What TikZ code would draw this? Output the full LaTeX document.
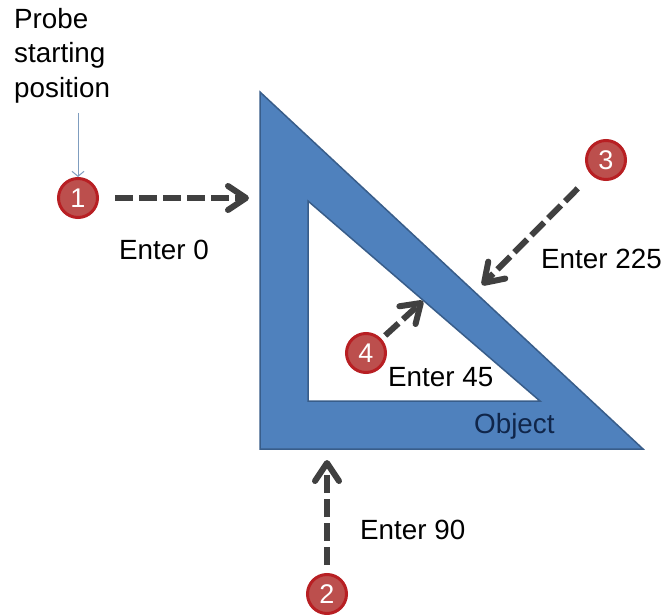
\documentclass[tikz,border=0pt]{standalone}
\usepackage{fontspec}
\setmainfont{Liberation Sans}
\usetikzlibrary{arrows.meta}
\definecolor{objfill}{HTML}{4F81BD}
\definecolor{objline}{HTML}{385D8A}
\definecolor{objtext}{HTML}{10264A}
\definecolor{badgefill}{HTML}{BC4F4D}
\definecolor{badgeline}{HTML}{B81F23}
\definecolor{arrowgray}{HTML}{404040}
\definecolor{thinblue}{HTML}{7F9DBF}
\tikzset{
  x=1pt,y=-1pt,
  badge/.style={circle,draw=badgeline,fill=badgefill,line width=3pt,minimum size=39pt,inner sep=0pt,text=white,font=\fontsize{27}{27}\selectfont},
  probearrow/.style={draw=arrowgray,line width=6pt,dash pattern=on 18pt off 6pt,
    -{Straight Barb[length=18pt,width=24pt,line width=6pt,round]}},
  lbl/.style={anchor=base west,inner sep=0pt,font=\fontsize{27.8}{27.8}\selectfont},
}
\begin{document}
\begin{tikzpicture}
\useasboundingbox (0,0) rectangle (665,615);
\fill[white] (0,0) rectangle (665,615);
% object
\path[fill=objfill,draw=objline,line width=1.5pt,even odd rule,line join=miter]
  (260,92) -- (643,449) -- (260,449) -- cycle
  (308,201) -- (540,401) -- (308,401) -- cycle;
% badges
\node[badge] (c1) at (78,198) {1};
\node[badge] (c2) at (327,594) {2};
\node[badge] (c3) at (606,160) {3};
\node[badge] (c4) at (366,353) {4};
% free ends
\coordinate (t1) at (249,198);
\coordinate (t2) at (327,460);
\coordinate (t3) at (482,285);
\coordinate (t4) at (423,301);
\coordinate (p0) at (78,113);
% connectors
\draw[probearrow,shorten <=16pt] (c1) -- (t1);
\draw[probearrow,shorten <=8pt] (c2) -- (t2);
\draw[probearrow,shorten <=19pt] (c3) -- (t3);
\draw[probearrow,shorten <=5pt] (c4) -- (t4);
\draw[thinblue,line width=1pt,-{Straight Barb[length=5pt,width=12pt]}] (p0) -- (c1);
% labels
\node[lbl] (l1) at (14,29) {Probe};
\node[lbl] (l2) at (14,63) {starting};
\node[lbl] (l3) at (14,98) {position};
\node[lbl] (e0) at (119,260) {Enter 0};
\node[lbl] (e225) at (541,269) {Enter 225};
\node[lbl] (e45) at (388,386) {Enter 45};
\node[lbl] (e90) at (360,539) {Enter 90};
\node[lbl,text=objtext] (obj) at (474,433) {Object};
\end{tikzpicture}
\end{document}
